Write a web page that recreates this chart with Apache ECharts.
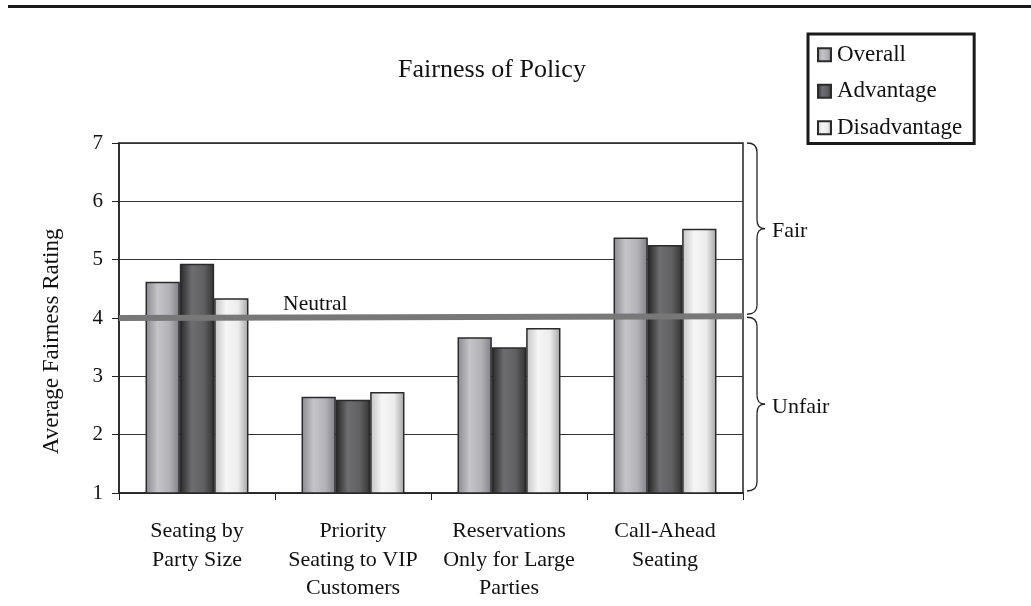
<!DOCTYPE html>
<html>
<head>
<meta charset="utf-8">
<script src="https://cdn.jsdelivr.net/npm/echarts@6/dist/echarts.min.js"></script>
<style>
  html, body { margin: 0; padding: 0; background: #fff; }
  #chart { width: 1031px; height: 606px; }
</style>
</head>
<body>
<div id="chart"></div>
<script>
var categories = ['Seating by\nParty Size', 'Priority\nSeating to VIP\nCustomers', 'Reservations\nOnly for Large\nParties', 'Call-Ahead\nSeating'];
var overall = [4.62, 2.65, 3.67, 5.38];
var advantage = [4.93, 2.60, 3.50, 5.25];
var disadvantage = [4.34, 2.73, 3.83, 5.53];
// neutral reference line, drawn slightly tilted like the original
var neutralLine = [[0, 4.0], [1, 4.03]];
var yTicks = [1, 7, 1]; // min, max, step
var FONT = '"Liberation Serif", "Times New Roman", serif';

function grad(c0, c1, c2, c3) {
    return new echarts.graphic.LinearGradient(0, 0, 1, 0, [
        {offset: 0, color: c0}, {offset: 0.35, color: c1},
        {offset: 0.7, color: c2}, {offset: 1, color: c3}
    ]);
}

var barStyle = function (fill) {
    return {color: fill, borderColor: '#2a2a2a', borderWidth: 1.5};
};

var myChart = echarts.init(document.getElementById('chart'));
var option = {
    animation: false,
    backgroundColor: '#fff',
    textStyle: {fontFamily: FONT, color: '#111'},
    title: {
        text: 'Fairness of Policy', left: 487, top: 52, textAlign: 'center',
        textStyle: {fontFamily: FONT, fontSize: 26, fontWeight: 'normal', color: '#111'}
    },
    legend: {
        orient: 'vertical', left: 808, top: 34,
        padding: [9, 12, 4, 9], itemGap: 13, itemWidth: 13, itemHeight: 13, icon: 'rect',
        borderColor: '#1a1a1a', borderWidth: 3,
        textStyle: {fontFamily: FONT, fontSize: 23, color: '#111', lineHeight: 23.5, padding: [0, 0, 0, 1]},
        data: ['Overall', 'Advantage', 'Disadvantage']
    },
    grid: {left: 119, right: 288, top: 143, bottom: 113, show: true, borderColor: '#222', borderWidth: 1.5},
    xAxis: [{
        type: 'category', data: categories,
        axisLine: {lineStyle: {color: '#222', width: 1.5}},
        axisTick: {show: true, length: 7, lineStyle: {color: '#222'}},
        axisLabel: {fontFamily: FONT, fontSize: 22, color: '#111', lineHeight: 28.5, margin: 24, interval: 0}
    }, {
        type: 'value', min: 0, max: 1, show: false
    }],
    yAxis: {
        type: 'value', min: yTicks[0], max: yTicks[1], interval: yTicks[2],
        axisLine: {show: true, lineStyle: {color: '#222', width: 1.5}},
        axisTick: {show: true, length: 7, lineStyle: {color: '#222'}},
        axisLabel: {fontFamily: FONT, fontSize: 21, color: '#111', margin: 16},
        splitLine: {lineStyle: {color: '#333', width: 1}}
    },
    series: [
        {name: 'Overall', type: 'bar', data: overall, barGap: '0%', barCategoryGap: '34%',
         itemStyle: barStyle(grad('#88888e', '#c4c4c8', '#b2b2b6', '#7e7e84'))},
        {name: 'Advantage', type: 'bar', data: advantage,
         itemStyle: barStyle(grad('#262626', '#6e6e70', '#606062', '#333333'))},
        {name: 'Disadvantage', type: 'bar', data: disadvantage,
         itemStyle: barStyle(grad('#c4c4c6', '#f6f6f6', '#ececec', '#a4a4a6'))},
        {name: 'Neutral', type: 'line', xAxisIndex: 1, data: neutralLine, symbol: 'none',
         lineStyle: {color: '#787878', width: 6}, z: 5}
    ]
};
myChart.setOption(option);

// annotations: braces + labels, positioned from the axes
function px(v) { return myChart.convertToPixel({xAxisIndex: 1, yAxisIndex: 0}, v); }
var stroke = {stroke: '#222', lineWidth: 1.3, fill: 'none'};
function curve(ax, ay, bx, by, cx, cy) {
    return {type: 'bezierCurve', shape: {x1: ax, y1: ay, x2: bx, y2: by, cpx1: cx, cpy1: cy}, style: stroke};
}
function seg(ax, ay, bx, by) {
    return {type: 'line', shape: {x1: ax, y1: ay, x2: bx, y2: by}, style: stroke};
}
function brace(y0, y1, x0) {
    var x1 = x0 + 10, x2 = x0 + 18, ym = (y0 + y1) / 2, r = 9;
    return [
        curve(x0, y0, x1, y0 + r, x1, y0),
        seg(x1, y0 + r, x1, ym - r),
        curve(x1, ym - r, x2, ym, x1, ym),
        curve(x2, ym, x1, ym + r, x1, ym),
        seg(x1, ym + r, x1, y1 - r),
        curve(x1, y1 - r, x0, y1, x1, y1)
    ];
}
var top7 = px([1, 7]), mid4 = px([1, 4.03]), bot1 = px([1, 1]);
var bx = top7[0] + 4;
var nLab = px([0.263, 4.0]);
var yName = px([0, 3.6]);
var els = [
    {type: 'rect', shape: {x: 8, y: 5, width: 1023, height: 3}, style: {fill: '#1a1a1a'}},
    {type: 'text', x: 52, y: yName[1], rotation: Math.PI / 2,
     style: {text: 'Average Fairness Rating', font: '23px ' + FONT, fill: '#111', textAlign: 'center', textVerticalAlign: 'middle'}},
    {type: 'text', x: bx + 25, y: (top7[1] + mid4[1]) / 2 + 2, style: {text: 'Fair', font: '22px ' + FONT, fill: '#111', textVerticalAlign: 'middle'}},
    {type: 'text', x: bx + 25, y: (mid4[1] + bot1[1]) / 2 + 3, style: {text: 'Unfair', font: '22px ' + FONT, fill: '#111', textVerticalAlign: 'middle'}},
    {type: 'text', x: nLab[0], y: nLab[1] - 3, style: {text: 'Neutral', font: '21.5px ' + FONT, fill: '#111', textVerticalAlign: 'bottom'}, z: 10}
];
els = els.concat(brace(top7[1], mid4[1] - 2, bx), brace(mid4[1] + 1, bot1[1] - 2, bx));
myChart.setOption({graphic: els});
window.onresize = myChart.resize;
</script>
</body>
</html>
